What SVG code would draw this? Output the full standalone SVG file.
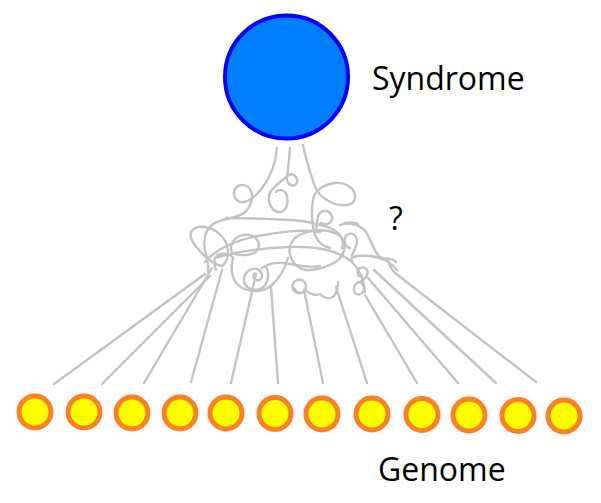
<svg xmlns="http://www.w3.org/2000/svg" width="601" height="503" viewBox="0 0 601 503">
<style>
.bg{fill:#ffffff}
.syn{fill:#0080ff;stroke:#0000ff;stroke-width:4}
.gene{fill:#ffff00;stroke:#ff7f27;stroke-width:5}
.w{fill:none;stroke:#c3c3c3;stroke-width:2.4;stroke-linecap:round;stroke-linejoin:round}
.lbl{font-family:"Open Sans","Noto Sans",sans-serif;font-size:32px;fill:#000000}
</style>
<rect class="bg" x="0" y="0" width="601" height="503"/>
<g id="connectors">
  <!-- fan lines to genes -->
  <path class="w" d="M54,384 L205,274"/>
  <path class="w" d="M102,384 L210,276"/>
  <path class="w" d="M144,383 L212,268"/>
  <path class="w" d="M191,382 L222,270"/>
  <path class="w" d="M231,383 L256,274"/>
  <path class="w" d="M278,383 L271,287"/>
  <path class="w" d="M323,383 L304,290"/>
  <path class="w" d="M367,383 L336,287"/>
  <path class="w" d="M417,383 L365,295"/>
  <path class="w" d="M458,383 L368,278"/>
  <path class="w" d="M496,383 L374,270"/>
  <path class="w" d="M536,382 L395,273 C391,269 389,265 388,260"/>
  <!-- tangle -->
  <path class="w" d="M277,148 C276,160 272,175 262,188 C256,196 250,201 244,202 C236,203 232,195 235,189 C239,183 248,184 251,191 C254,199 250,208 244,213 C236,219 222,218 213,224 C205,230 203,240 205,250 C207,258 209,265 208,272"/>
  <path class="w" d="M290,148 C289,160 288,170 287,177 C286,183 292,188 296,184 C299,180 295,172 289,175 C282,180 276,185 271,191 C266,198 270,210 278,212 C285,213 289,205 287,196 C285,190 280,188 276,192"/>
  <path class="w" d="M303,145 C306,160 310,172 314,184 C316,192 322,198 332,203 C342,207 354,206 355,198 C356,188 345,182 334,183 C322,185 314,192 313,200 C311,210 312,222 314,232 C316,240 322,246 330,248"/>
  <path class="w" d="M316,232 C317,226 316,218 320,213 C324,209 331,211 332,217 C333,223 326,226 321,223"/>
  <path class="w" d="M345,223 C350,222 356,223 358,224"/>
  <path class="w" d="M191,238 C189,229 196,226 205,227 C218,229 228,240 228,252 C228,258 226,263 222,266 C214,265 197,252 191,238 Z"/>
  <path class="w" d="M226,218 C245,218 270,219 290,220 C305,221 320,224 330,228 C340,232 345,240 342,248"/>
  <path class="w" d="M205,262 C215,250 235,240 258,236 C280,232 300,229 320,232"/>
  <path class="w" d="M215,258 C235,252 262,248 290,247 C315,246 338,250 352,262 C360,270 364,280 365,292"/>
  <path class="w" d="M300,268 C290,262 285,248 295,238 C308,228 330,228 340,236 C348,244 345,258 332,264 C320,270 305,272 300,268 Z"/>
  <path class="w" d="M262,268 C270,262 280,262 290,264 C300,266 310,268 320,266"/>
  <path class="w" d="M350,248 C343,246 343,236 349,234 C355,232 359,240 356,246 C354,252 350,256 352,262"/>
  <path class="w" d="M340,225 C348,222 360,224 366,232 C372,242 374,252 380,257 C385,260 392,257 396,262"/>
  <path class="w" d="M353,257 C360,255 373,255 382,259 C389,262 394,266 397,270"/>
  <path class="w" d="M232,253 C228,242 238,233 250,235 C258,237 262,246 256,252 C250,256 238,256 232,253 Z"/>
  <path class="w" d="M256,274 C253,272 252,278 256,280 C262,282 264,274 259,270 C252,266 244,272 244,280 C244,288 254,292 262,288 C268,284 270,274 266,266"/>
  <path class="w" d="M233,258 C230,270 232,282 242,288 C252,293 264,292 272,285 C280,278 285,268 288,258"/>
  <path class="w" d="M298,293 C292,292 290,283 297,280 C303,278 308,284 305,290 C302,295 296,293 294,288"/>
  <path class="w" d="M305,290 C310,294 315,296 320,294 C324,298 330,300 334,296 C337,292 338,288 338,282"/>
  <path class="w" d="M362,277 C357,277 356,270 360,268 C365,266 369,270 367,275 C366,278 363,280 360,282"/>
  <path class="w" d="M360,282 C354,283 352,290 356,294 C360,296 365,292 364,287 C363,284 360,282 358,282"/>
  <path class="w" d="M216,270 C213,262 214,256 220,254 C226,252 232,256 233,258"/>
</g>
<g id="syndrome">
  <circle class="syn" cx="286.5" cy="77" r="61.5"/>
  <text class="lbl" x="372" y="90">Syndrome</text>
</g>
<g id="question">
  <text class="lbl" x="389" y="230">?</text>
</g>
<g id="genome">
  <circle class="gene" cx="35" cy="412" r="16"/>
  <circle class="gene" cx="84" cy="412" r="16"/>
  <circle class="gene" cx="132" cy="413" r="16"/>
  <circle class="gene" cx="180" cy="413" r="16"/>
  <circle class="gene" cx="226" cy="413" r="16"/>
  <circle class="gene" cx="275" cy="413.5" r="16"/>
  <circle class="gene" cx="322" cy="414" r="16"/>
  <circle class="gene" cx="372" cy="414" r="16"/>
  <circle class="gene" cx="422" cy="414.5" r="16"/>
  <circle class="gene" cx="469" cy="415" r="16"/>
  <circle class="gene" cx="518" cy="415.5" r="16"/>
  <circle class="gene" cx="564" cy="416" r="16"/>
  <text class="lbl" x="378" y="481">Genome</text>
</g>
</svg>
